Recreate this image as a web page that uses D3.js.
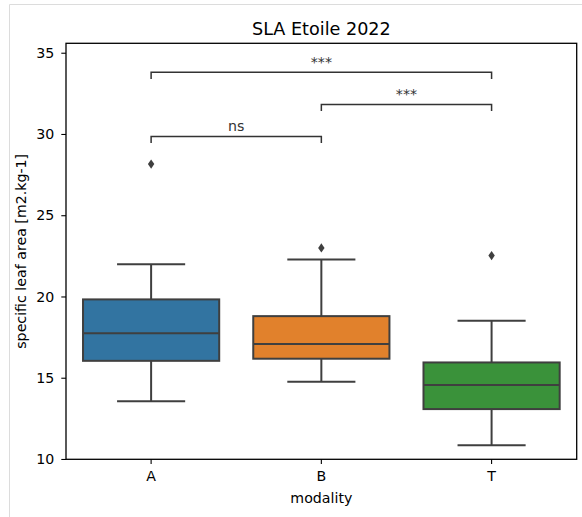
<!DOCTYPE html>
<html>
<head>
<meta charset="utf-8">
<script src="https://cdn.jsdelivr.net/npm/d3@7"></script>
<style>
  body { margin: 0; background: #fff; }
  text { font-family: "DejaVu Sans", sans-serif; }
</style>
</head>
<body>
<svg></svg>
<script>
// Data
var modalities = ["A", "B", "T"];
var q1 = [16.04, 16.17, 13.07];
var medians = [17.74, 17.07, 14.55];
var q3 = [19.82, 18.79, 15.94];
var whiskerLow = [13.55, 14.75, 10.84];
var whiskerHigh = [21.99, 22.27, 18.5];
var outliers = [[28.15], [22.99], [22.52]];
var boxColors = ["#3274a1", "#e1812c", "#3a923a"];
var yTicks = [10, 15, 20, 25, 30, 35];

// significance brackets : from, to, height, label
var brackets = [
    { from: "A", to: "B", y: 29.85, label: "ns" },
    { from: "B", to: "T", y: 31.82, label: "***" },
    { from: "A", to: "T", y: 33.8, label: "***" }
];
var bracketDrop = 0.41;

var svgWidth = 582, svgHeight = 517;
var margin = { left: 66, top: 43.3, right: 5.3, bottom: 57.7 };
var width = svgWidth - margin.left - margin.right;
var height = svgHeight - margin.top - margin.bottom;
var lineColor = "#3f3f3f";
var fontSize = 14.2;

var svg = d3.select("svg")
    .attr("width", svgWidth)
    .attr("height", svgHeight);

// thin gray frame of the notebook cell
svg.append("path")
    .attr("d", "M9.5," + svgHeight + "V4.5H" + svgWidth)
    .attr("fill", "none")
    .attr("stroke", "#dcdcdc")
    .attr("stroke-width", 1);

var g = svg.append("g")
    .attr("transform", "translate(" + margin.left + "," + margin.top + ")");

var xScale = d3.scaleBand()
    .domain(modalities)
    .range([0, width]);

var yScale = d3.scaleLinear()
    .domain([9.98, 35.58])
    .range([height, 0]);

var boxWidth = xScale.bandwidth() * 0.8;

// axes
var yAxis = d3.axisLeft(yScale).tickValues(yTicks).tickSize(4.7).tickPadding(7);
var xAxis = d3.axisBottom(xScale).tickSize(4.7).tickPadding(6.5);

var gy = g.append("g").call(yAxis);
var gx = g.append("g").attr("transform", "translate(0," + height + ")").call(xAxis);
[gx, gy].forEach(function (a) {
    a.select(".domain").remove();
    a.selectAll("line").attr("stroke", "#000").attr("stroke-width", 1.1);
    a.selectAll("text").attr("font-size", fontSize).attr("fill", "#000")
        .attr("font-family", "DejaVu Sans, sans-serif");
});

// boxes
modalities.forEach(function (m, i) {
    var cx = xScale(m) + xScale.bandwidth() / 2;
    var box = g.append("g");

    // whiskers
    box.append("line")
        .attr("x1", cx).attr("x2", cx)
        .attr("y1", yScale(q3[i])).attr("y2", yScale(whiskerHigh[i]));
    box.append("line")
        .attr("x1", cx).attr("x2", cx)
        .attr("y1", yScale(q1[i])).attr("y2", yScale(whiskerLow[i]));
    [whiskerLow[i], whiskerHigh[i]].forEach(function (v) {
        box.append("line")
            .attr("x1", cx - boxWidth / 4).attr("x2", cx + boxWidth / 4)
            .attr("y1", yScale(v)).attr("y2", yScale(v));
    });

    box.append("rect")
        .attr("x", cx - boxWidth / 2)
        .attr("y", yScale(q3[i]))
        .attr("width", boxWidth)
        .attr("height", yScale(q1[i]) - yScale(q3[i]))
        .attr("fill", boxColors[i]);

    box.append("line")
        .attr("x1", cx - boxWidth / 2).attr("x2", cx + boxWidth / 2)
        .attr("y1", yScale(medians[i])).attr("y2", yScale(medians[i]));

    box.selectAll("line, rect")
        .attr("stroke", lineColor)
        .attr("stroke-width", 2);

    // outliers as diamonds
    box.selectAll(".flier")
        .data(outliers[i])
        .enter()
        .append("path")
        .attr("class", "flier")
        .attr("d", function (d) {
            var y = yScale(d);
            return "M" + cx + "," + (y - 4.6) + "L" + (cx + 3.2) + "," + y +
                "L" + cx + "," + (y + 4.6) + "L" + (cx - 3.2) + "," + y + "Z";
        })
        .attr("fill", lineColor);
});

// significance brackets
brackets.forEach(function (b) {
    var x1 = xScale(b.from) + xScale.bandwidth() / 2;
    var x2 = xScale(b.to) + xScale.bandwidth() / 2;
    var yTop = yScale(b.y), yBot = yScale(b.y - bracketDrop);
    g.append("path")
        .attr("d", "M" + x1 + "," + yBot + "V" + yTop + "H" + x2 + "V" + yBot)
        .attr("fill", "none")
        .attr("stroke", "#333")
        .attr("stroke-width", 1.5);
    g.append("text")
        .attr("x", (x1 + x2) / 2)
        .attr("y", yTop - 5.5)
        .attr("text-anchor", "middle")
        .attr("font-size", fontSize)
        .attr("fill", "#333")
        .text(b.label);
});

// frame of the axes
g.append("rect")
    .attr("width", width)
    .attr("height", height)
    .attr("fill", "none")
    .attr("stroke", "#000")
    .attr("stroke-width", 1.3);

// title and labels
svg.append("text")
    .attr("x", margin.left + width / 2)
    .attr("y", 34.5)
    .attr("text-anchor", "middle")
    .attr("font-size", 17.6)
    .text("SLA Etoile 2022");

svg.append("text")
    .attr("x", margin.left + width / 2)
    .attr("y", 502.5)
    .attr("text-anchor", "middle")
    .attr("font-size", fontSize)
    .text("modality");

svg.append("text")
    .attr("transform", "translate(26," + (margin.top + height / 2) + ") rotate(-90)")
    .attr("text-anchor", "middle")
    .attr("font-size", fontSize)
    .text("specific leaf area [m2.kg-1]");
</script>
</body>
</html>
